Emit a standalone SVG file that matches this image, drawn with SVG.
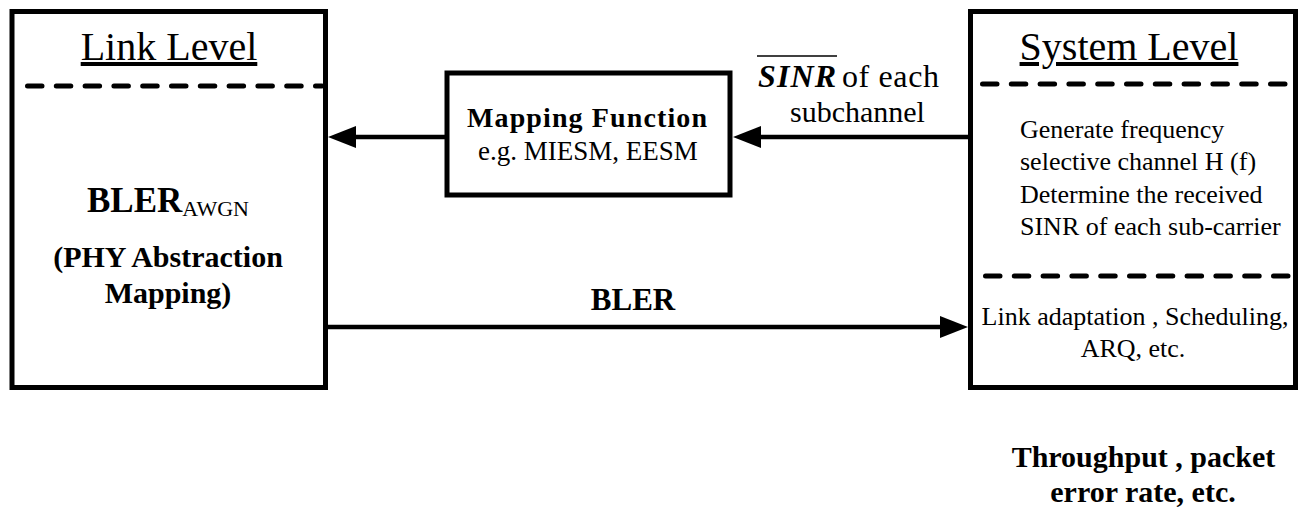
<svg xmlns="http://www.w3.org/2000/svg" width="1302" height="508" viewBox="0 0 1302 508" font-family="'Liberation Serif', 'Times New Roman', Times, 'DejaVu Serif', serif">
<style>
  .box{fill:#fff;stroke:#000;stroke-width:5}
  .dash{fill:none;stroke:#000;stroke-width:5;stroke-dasharray:14.5 14.3;stroke-linecap:round}
  .conn{fill:none;stroke:#000;stroke-width:4.5}
  text{fill:#000}
  .title{font-size:40px;text-decoration:underline}
  .b{font-weight:bold}
  .body{font-size:26px}
</style>
<defs>
  <marker id="arr" markerUnits="userSpaceOnUse" markerWidth="28" markerHeight="22" refX="18" refY="11" orient="auto" viewBox="0 0 28 22">
    <path d="M0,0 L28,11 L0,22 z" fill="#000"/>
  </marker>
</defs>
<g id="link-level">
  <rect class="box" x="12" y="11.5" width="313.5" height="376"/>
  <line class="dash" x1="27.5" y1="86" x2="322" y2="86"/>
  <text class="title" x="169" y="60" text-anchor="middle">Link Level</text>
  <text class="b" x="168" y="212" text-anchor="middle" font-size="35">BLER<tspan font-weight="normal" font-size="22" dy="4">AWGN</tspan></text>
  <text class="b" x="168" y="267" text-anchor="middle" font-size="30">(PHY Abstraction</text>
  <text class="b" x="168" y="303" text-anchor="middle" font-size="30">Mapping)</text>
</g>
<g id="mapping-function">
  <rect class="box" x="447" y="73" width="283" height="122"/>
  <text class="b" x="467" y="127" font-size="28" textLength="240" lengthAdjust="spacing">Mapping Function</text>
  <text x="588" y="160" text-anchor="middle" font-size="27">e.g. MIESM, EESM</text>
</g>
<g id="system-level">
  <rect class="box" x="970.5" y="11.5" width="325" height="376"/>
  <line class="dash" x1="982.5" y1="84" x2="1290" y2="84"/>
  <line class="dash" x1="985.5" y1="276" x2="1290" y2="276"/>
  <text class="title" x="1129" y="60" text-anchor="middle">System Level</text>
  <text class="body" x="1020" y="138">Generate frequency</text>
  <text class="body" x="1020" y="170">selective channel H (f)</text>
  <text class="body" x="1020" y="203">Determine the received</text>
  <text class="body" x="1020" y="235">SINR of each sub-carrier</text>
  <text class="body" x="1135" y="325" text-anchor="middle">Link adaptation , Scheduling,</text>
  <text class="body" x="1133" y="357" text-anchor="middle">ARQ, etc.</text>
</g>
<g id="output-label">
  <text class="b" x="1143.5" y="467" text-anchor="middle" font-size="30">Throughput , packet</text>
  <text class="b" x="1143" y="502" text-anchor="middle" font-size="30">error rate, etc.</text>
</g>
<g id="connectors">
  <line class="conn" x1="968" y1="137" x2="743" y2="137" marker-end="url(#arr)"/>
  <line class="conn" x1="447" y1="137" x2="338" y2="137" marker-end="url(#arr)"/>
  <line class="conn" x1="328" y1="327" x2="958" y2="327" marker-end="url(#arr)"/>
  <g id="sinr-label">
    <line x1="757" y1="56" x2="837" y2="56" stroke="#000" stroke-width="1.5"/>
    <text y="87" font-size="32"><tspan x="758" font-weight="bold" font-style="italic" textLength="78" lengthAdjust="spacing">SINR</tspan><tspan x="842" textLength="97" lengthAdjust="spacing">of each</tspan></text>
    <text x="790" y="122" font-size="30">subchannel</text>
  </g>
  <text class="b" x="633" y="310" text-anchor="middle" font-size="31">BLER</text>
</g>
</svg>
